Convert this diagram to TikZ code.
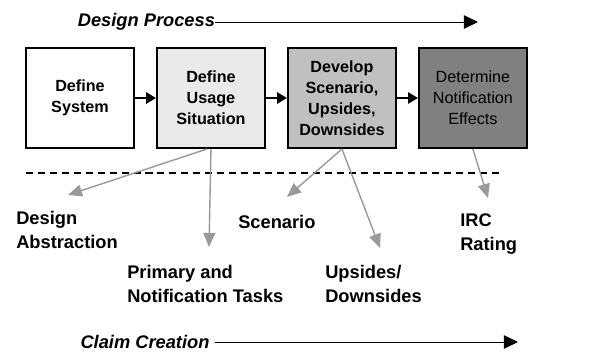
\documentclass[tikz,border=0pt]{standalone}
\usepackage{fontspec}
\setmainfont{Liberation Sans}
\usepackage{tikz}
\usetikzlibrary{arrows.meta,positioning,calc}
\definecolor{stepgray}{RGB}{234,234,234}
\definecolor{stepmid}{RGB}{192,192,192}
\definecolor{stepdark}{RGB}{128,128,128}
\definecolor{linkgray}{RGB}{153,153,153}

\begin{document}
\begin{tikzpicture}[
    node distance=0.525cm,
    box/.style={rectangle, draw=black, line width=1.4pt, text width=2.4cm, align=center, minimum width=2.7cm, minimum height=2.5cm, font=\fontsize{11.5}{15}\selectfont\bfseries},
    outcome/.style={inner sep=0pt, align=left, font=\fontsize{13}{17}\selectfont\bfseries},
    phase/.style={inner sep=0pt, font=\fontsize{13}{15}\selectfont\bfseries\itshape},
    arrow/.style={-{Triangle[length=7pt,width=8pt]}, line width=1.4pt, black},
    timeline/.style={-{Triangle[length=10pt,width=9.5pt]}, line width=0.7pt, black},
    link/.style={-{Triangle[length=10pt,width=8.5pt]}, line width=1pt, linkgray}
]
    \useasboundingbox (0,0) rectangle (15.125,-8.95);

    % process steps
    \node[box] (sys) at (2.0,-2.45) {Define\\System};
    \node[box, fill=stepgray, right=of sys] (usage) {Define\\Usage\\Situation};
    \node[box, fill=stepmid, right=of usage] (scen) {Develop\\Scenario,\\Upsides,\\Downsides};
    \node[box, fill=stepdark, right=of scen, font=\fontsize{11.5}{15}\selectfont] (effects) {Determine\\Notification\\Effects};

    \draw[arrow] (sys) -- (usage);
    \draw[arrow] (usage) -- (scen);
    \draw[arrow] (scen) -- (effects);

    % phase headings
    \node[phase] (dp) at (3.66,-0.55) {Design Process};
    \coordinate (dpend) at (11.95,-0.52);
    \draw[timeline] (dp.east) -- (dpend |- dp.east);

    \node[phase] (cc) at (3.625,-8.55) {Claim Creation};
    \coordinate (ccend) at (12.95,-8.55);
    \draw[timeline] ($(cc.east)+(0.12,0)$) -- (ccend |- cc.east);

    \draw[dashed, dash pattern=on 5pt off 3.5pt, line width=1pt] (0.65,-4.325) -- (12.5,-4.325);

    % claims produced by each step
    \node[outcome, anchor=west] (abstr) at (0.4,-5.75) {Design\\Abstraction};
    \node[outcome, anchor=west] (tasks) at (3.175,-7.11) {Primary and\\Notification Tasks};
    \node[outcome, anchor=west] (scenario) at (5.95,-5.55) {Scenario};
    \node[outcome, anchor=west] (updown) at (8.125,-7.11) {Upsides/\\Downsides};
    \node[outcome, anchor=west] (irc) at (11.5,-5.86) {IRC\\Rating};

    \coordinate (abstrtip) at (1.7,-4.875);
    \coordinate (taskstip) at (5.225,-6.175);
    \coordinate (scenariotip) at (7.175,-4.925);
    \coordinate (updowntip) at (9.5,-6.2);
    \coordinate (irctip) at (12.2,-4.95);

    \draw[link] ($(usage.south)+(-0.1,0)$) -- (abstrtip);
    \draw[link] (usage.south) -- (taskstip);
    \draw[link] (scen.south) -- (scenariotip);
    \draw[link] (scen.south) -- (updowntip);
    \draw[link] (effects.south) -- (irctip);
\end{tikzpicture}
\end{document}
